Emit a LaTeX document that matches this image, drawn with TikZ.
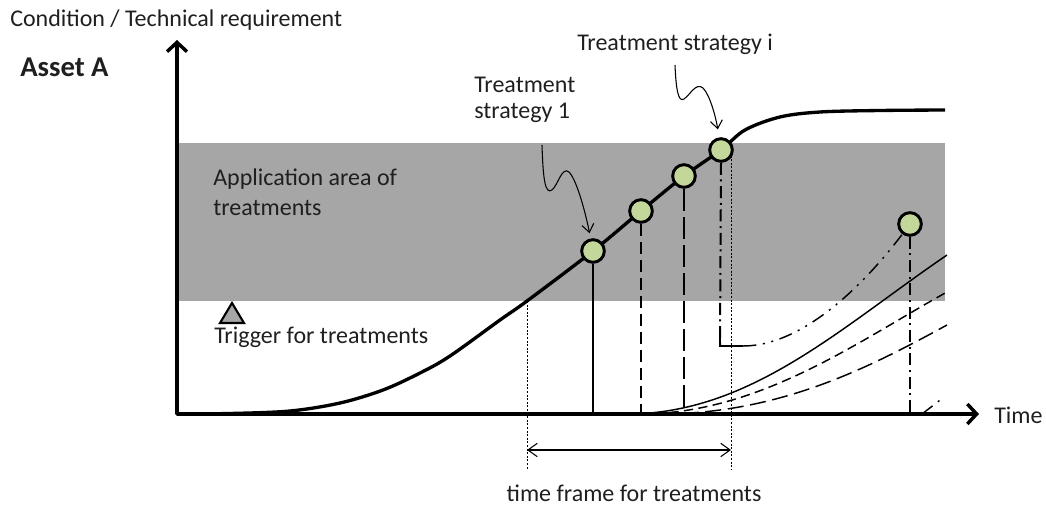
\documentclass[tikz,border=0pt]{standalone}
\usepackage{fontspec}
\setmainfont{Carlito}
\usetikzlibrary{arrows.meta}
\definecolor{bandgray}{HTML}{A6A6A6}
\definecolor{dotgreen}{HTML}{C4D79B}
\definecolor{txt}{HTML}{1F1F1F}
\begin{document}
\begin{tikzpicture}[x=0.75pt,y=-0.75pt,
  lbl/.style={font=\fontsize{18}{21}\selectfont, text=txt, inner sep=0pt, anchor=west},
  axisline/.style={line width=2.6pt, line join=round},
  maincurve/.style={line width=2.5pt},
  circ/.style={circle, draw=black, line width=2.2pt, fill=dotgreen, minimum size=17pt, inner sep=0pt},
  vsolid/.style={line width=1.5pt},
  vdash/.style={line width=1.6pt, dash pattern=on 9pt off 4.5pt},
  vlongdash/.style={line width=1.6pt, dash pattern=on 17pt off 4pt},
  vdashdot/.style={line width=1.5pt, dash pattern=on 9pt off 3.5pt on 1.5pt off 3.5pt},
  thincurve/.style={line width=1.1pt},
  thindash/.style={line width=1.1pt, dash pattern=on 7pt off 4pt},
  thinlongdash/.style={line width=1.1pt, dash pattern=on 12pt off 5pt},
  curvedashdot/.style={line width=1.1pt, dash pattern=on 10pt off 5pt on 1.5pt off 5pt on 1.5pt off 5pt},
  guide/.style={line width=0.6pt, dash pattern=on 1.5pt off 1.2pt},
  squig/.style={line width=0.8pt, -{Straight Barb[length=6pt,width=9pt]}},
  span/.style={line width=0.8pt, {Straight Barb[length=7pt,width=10pt]}-{Straight Barb[length=7pt,width=10pt]}}
]
\useasboundingbox (0,0) rectangle (1046,506);

% application band
\fill[bandgray] (177,143) rectangle (945,301);

% texts
\node[lbl] (cond) at (10,20) {Condition / Technical requirement};
\node[lbl, font=\bfseries\fontsize{21.5}{25}\selectfont] (asset) at (20,67) {Asset A};
\node[lbl, align=left, font=\fontsize{18}{22.5}\selectfont] (app) at (213,192) {Application area of\\treatments};
\node[lbl] (trigtext) at (214,337) {Trigger for treatments};
\node[lbl, align=left, font=\fontsize{18}{20}\selectfont] (ts1) at (474,100) {Treatment\\strategy 1};
\node[lbl] (tsi) at (577,44) {Treatment strategy i};
\node[lbl] (timelbl) at (994,415) {Time};
\node[lbl, anchor=center] (tf) at (634,493) {time frame for treatments};

% trigger triangle
\draw[line width=1.6pt, fill=bandgray, line join=miter] (232,303) -- (244,323) -- (220,323) -- cycle;

% axes
\coordinate (O) at (177,414);
\coordinate (ytip) at (177,40);
\coordinate (xtip) at (979,414);
\draw[axisline, {Straight Barb[length=7pt,width=15pt]}-{Straight Barb[length=7pt,width=15pt]}] (ytip) -- (O) -- (xtip);

% guide lines (dotted)
\coordinate (g1t) at (527,301);
\coordinate (g1b) at (527,470);
\coordinate (g2t) at (731,152);
\coordinate (g2b) at (731,470);
\draw[guide] (g1t) -- (g1b);
\draw[guide] (g2t) -- (g2b);
\coordinate (sp1) at (527,450);
\coordinate (sp2) at (731,450);
\draw[span] (sp1) -- (sp2);

% right-hand degradation curves
\coordinate (r1a) at (627,414); \coordinate (r1b) at (947,255);
\coordinate (r2a) at (640,414); \coordinate (r2b) at (947,292);
\coordinate (r3a) at (660,414); \coordinate (r3b) at (947,325);
\draw[thincurve] (r1a) .. controls (750,414) and (840,328) .. (r1b);
\draw[thindash] (r2a) .. controls (760,414) and (860,340) .. (r2b);
\draw[thinlongdash] (r3a) .. controls (780,414) and (870,367) .. (r3b);

% main condition curve
\draw[maincurve] plot[smooth, tension=0.55] coordinates {(177,414) (230,413.5) (290,411) (340,403) (383,390) (420,373) (450,356) (500,320) (527,301) (593,251) (641,211) (684,176) (721,150) (745,130) (780,117) (820,112) (880,110.5) (945,110)};

% treatment points
\node[circ] (c1) at (593,251) {};
\node[circ] (c2) at (641,211) {};
\node[circ] (c3) at (684,176) {};
\node[circ] (c4) at (721,150) {};
\node[circ] (c5) at (910,224) {};

% vertical treatment lines
\draw[vsolid] (c1.south) -- (c1.south |- O);
\draw[vdash] (c2.south) -- (c2.south |- O);
\draw[vlongdash] (c3.south) -- (c3.south |- O);
\draw[vdashdot] (c5.south) -- (c5.south |- O);
\coordinate (Lc) at (720,346);
\coordinate (Le) at (743,346);
\draw[vdashdot] (c4.south) -- (Lc);
\draw[line width=1.5pt] (720,333) -- (Lc) -- (Le);
\draw[curvedashdot] (Le) .. controls (800,346) and (860,290) .. (c5);
\coordinate (n1) at (922,414);
\coordinate (n2) at (944,397);
\draw[curvedashdot] (n1) -- (n2);

% squiggly pointers
\coordinate (s1) at (542,145);
\draw[squig, shorten >=4pt] (s1) .. controls (543,178) and (545,195) .. (552,190)
   .. controls (558,185) and (562,166) .. (569,172)
   .. controls (577,180) and (586,215) .. (c1);
\coordinate (s2) at (675,65);
\draw[squig, shorten >=6pt] (s2) .. controls (676,88) and (678,103) .. (684,99)
   .. controls (690,95) and (696,82) .. (703,88)
   .. controls (710,95) and (716,118) .. (c4);
\end{tikzpicture}
\end{document}
